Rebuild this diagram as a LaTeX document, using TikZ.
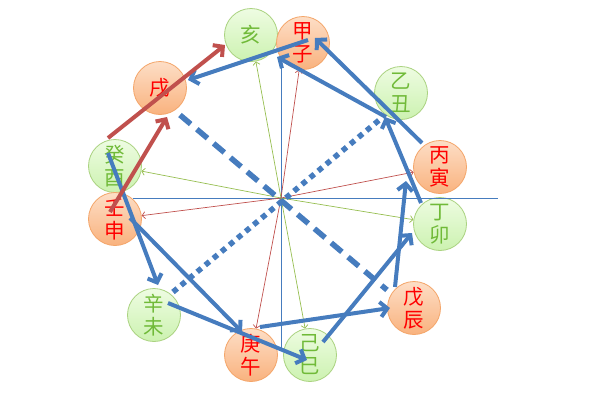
\documentclass[tikz,border=0pt]{standalone}
\usepackage{fontspec}
\newfontfamily\cjk{Noto Sans CJK SC}
\usetikzlibrary{arrows.meta}
\definecolor{bl}{RGB}{70,124,190}
\definecolor{rd}{RGB}{192,80,77}
\definecolor{gn}{RGB}{150,190,80}
\definecolor{otop}{RGB}{253,222,198}
\definecolor{obot}{RGB}{249,178,126}
\definecolor{oedge}{RGB}{244,165,105}
\definecolor{gtop}{RGB}{238,252,226}
\definecolor{gbot}{RGB}{204,242,176}
\definecolor{gedge}{RGB}{170,210,128}
\definecolor{gtext}{RGB}{112,186,56}
\begin{document}
\begin{tikzpicture}[x=1pt,y=-1pt,
  ball/.style={circle, minimum size=53pt, inner sep=0pt, line width=0.8pt, align=center,
    font=\cjk\fontsize{20.5}{23}\selectfont},
  onode/.style={ball, draw=oedge, top color=otop, bottom color=obot, text=red},
  gnode/.style={ball, draw=gedge, top color=gtop, bottom color=gbot, text=gtext},
  thinarr/.style={line width=0.7pt, -{Straight Barb[length=3pt,width=7pt]}},
  axis/.style={line width=0.8pt, bl},
  bigarr/.style={line width=4pt, -{Straight Barb[length=7pt,width=15pt]}},
  longdash/.style={line width=5.5pt, bl, dash pattern=on 14pt off 8pt},
  sqdots/.style={line width=5.5pt, bl, dash pattern=on 5.5pt off 5pt}]
\useasboundingbox (0,0) rectangle (600,400);
% nodes
\node[gnode] (hai) at (251,35) {亥};
\node[onode] (jiazi) at (303,43) {甲\\子};
\node[onode] (xu) at (160,88) {戌};
\node[gnode] (yichou) at (401,93) {乙\\丑};
\node[onode] (bingyin) at (440,167) {丙\\寅};
\node[gnode] (guiyou) at (115,166) {癸\\酉};
\node[onode] (renshen) at (115,219) {壬\\申};
\node[gnode] (dingmao) at (440,224) {丁\\卯};
\node[gnode] (xinwei) at (154,315) {辛\\未};
\node[onode] (gengwu) at (251,355) {庚\\午};
\node[gnode] (jisi) at (310,355) {己\\巳};
\node[onode] (wuchen) at (414,308) {戊\\辰};
% centre and axes
\coordinate (o) at (281,198);
\coordinate (hl) at (133,198);
\coordinate (hr) at (498,198);
\coordinate (vt) at (281,60);
\coordinate (vb) at (281,350);
\draw[axis] (hl) -- (hr);
\draw[axis] (vt) -- (vb);
% thin radial arrows
\draw[thinarr, gn] (o) -- (hai);
\draw[thinarr, rd] (o) -- (jiazi);
\draw[thinarr, gn] (o) -- (guiyou);
\draw[thinarr, rd] (o) -- (renshen);
\draw[thinarr, rd] (o) -- (bingyin);
\draw[thinarr, gn] (o) -- (dingmao);
\draw[thinarr, rd] (o) -- (gengwu);
\draw[thinarr, gn] (o) -- (jisi);
% dashed and dotted diagonals
\draw[longdash] ([shift={(20,27)}]xu.center) -- ([shift={(-27,-18)}]wuchen.center);
\draw[sqdots] ([shift={(19,-23)}]xinwei.center) -- ([shift={(-17,23)}]yichou.center);
% thick blue arrows
\draw[bigarr, bl] ([shift={(-7,-13)}]guiyou.center) -- ([shift={(4,-30)}]xinwei.center);
\draw[bigarr, bl] ([shift={(15,-1)}]renshen.center) -- ([shift={(-9,-23)}]gengwu.center);
\draw[bigarr, bl] ([shift={(14,-12)}]xinwei.center) -- ([shift={(-3,5)}]jisi.center);
\draw[bigarr, bl] ([shift={(9,-28)}]gengwu.center) -- ([shift={(-24,0)}]wuchen.center);
\draw[bigarr, bl] ([shift={(13,-13)}]jisi.center) -- ([shift={(-28,9)}]dingmao.center);
\draw[bigarr, bl] ([shift={(-19,-21)}]wuchen.center) -- ([shift={(-34,14)}]bingyin.center);
\draw[bigarr, bl] ([shift={(-19,-21)}]dingmao.center) -- ([shift={(-16,24)}]yichou.center);
\draw[bigarr, bl] ([shift={(-15,24)}]yichou.center) -- ([shift={(-26,14)}]jiazi.center);
\draw[bigarr, bl] ([shift={(-18,-24)}]bingyin.center) -- ([shift={(12,-5)}]jiazi.center);
\draw[bigarr, bl] ([shift={(5,-3)}]jiazi.center) -- ([shift={(28,-8)}]xu.center);
% thick red arrows
\draw[bigarr, rd] ([shift={(-7,-28)}]guiyou.center) -- ([shift={(-26,10)}]hai.center);
\draw[bigarr, rd] ([shift={(-5,-7)}]renshen.center) -- ([shift={(7,29)}]xu.center);
\end{tikzpicture}
\end{document}
